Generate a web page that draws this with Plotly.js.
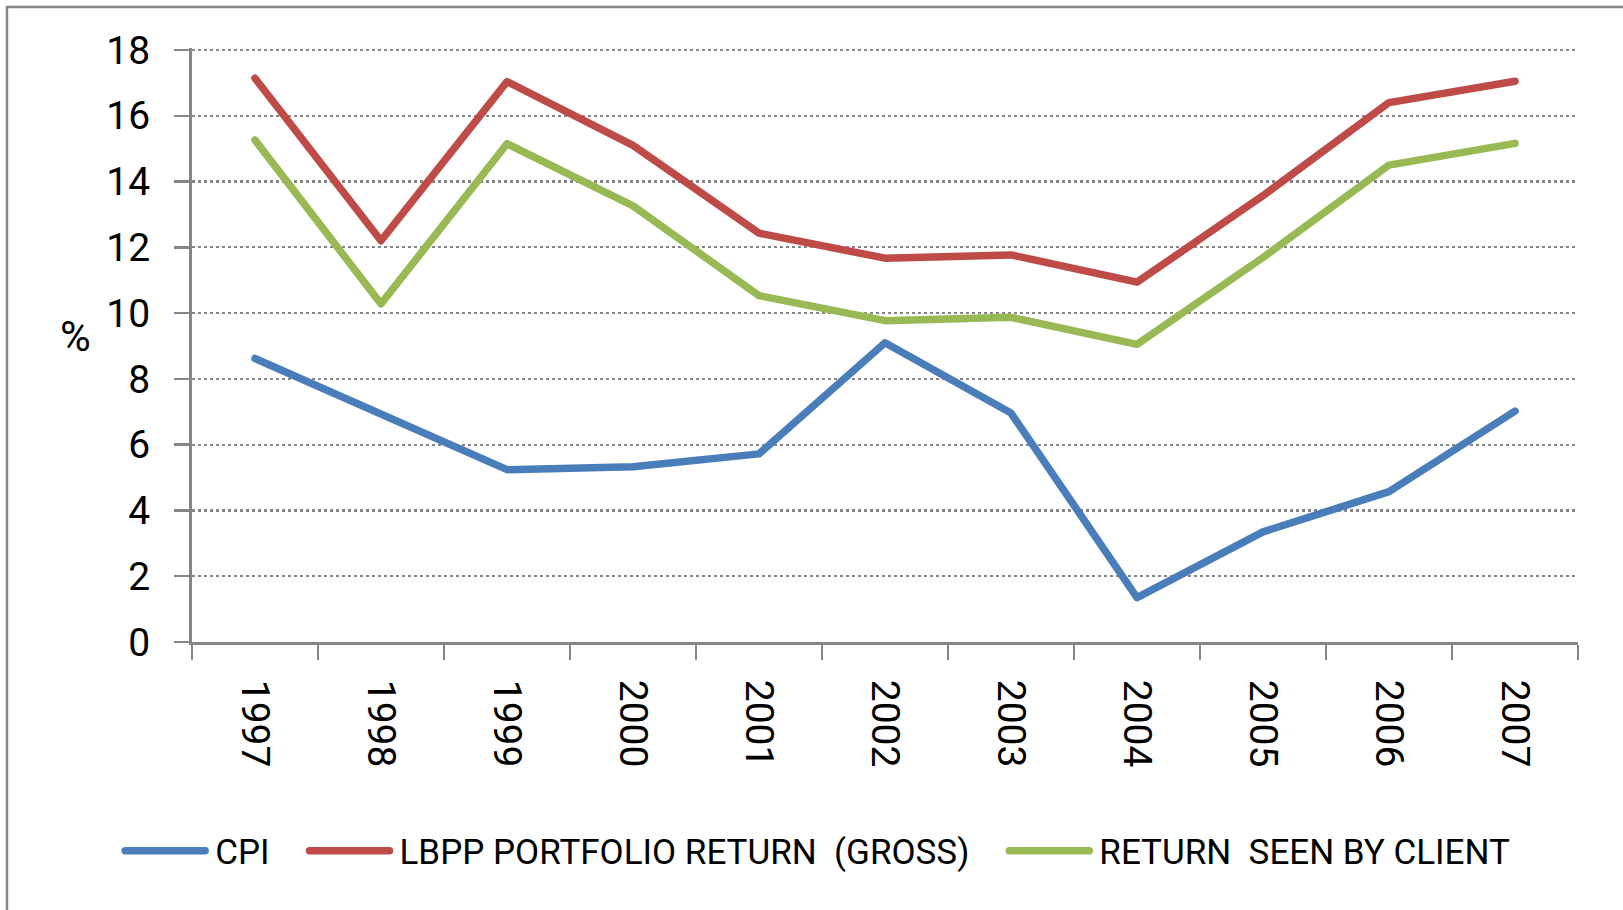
<!DOCTYPE html>
<html>
<head>
<meta charset="utf-8">
<script src="https://cdn.plot.ly/plotly-3.0.1.min.js"></script>
<style>
  html, body { margin: 0; padding: 0; background: #ffffff; }
  #chart { width: 1623px; height: 910px; }
  .scatterlayer .js-line, .legendlines path { stroke-linecap: round !important; stroke-linejoin: round !important; }
</style>
</head>
<body>
<div id="chart"></div>
<script>
const years = ["1997", "1998", "1999", "2000", "2001", "2002", "2003", "2004", "2005", "2006", "2007"];
const cpi = [8.62, 6.90, 5.24, 5.33, 5.72, 9.10, 6.96, 1.35, 3.35, 4.57, 7.02];
const lbppGross = [17.14, 12.20, 17.04, 15.10, 12.43, 11.67, 11.77, 10.94, 13.57, 16.40, 17.05];
const clientReturn = [15.26, 10.28, 15.15, 13.26, 10.53, 9.77, 9.87, 9.05, 11.69, 14.50, 15.16];
const seriesNames = ["CPI", "LBPP PORTFOLIO RETURN\u00a0 (GROSS)", "RETURN\u00a0 SEEN BY CLIENT"];
const seriesColors = ["#4A7EBB", "#BE4B48", "#98B954"];
const yTicks = [0, 2, 4, 6, 8, 10, 12, 14, 16, 18];

const FONT = "Roboto, 'Liberation Sans', Arial, sans-serif";
const GRAY = "#868686";

const seriesValues = [cpi, lbppGross, clientReturn];
const traces = seriesValues.map((vals, i) => ({
  type: "scatter",
  mode: "lines",
  x: years,
  y: vals,
  name: seriesNames[i],
  line: { color: seriesColors[i], width: 7.5 },
  hoverinfo: "x+y+name"
}));

const layout = {
  width: 1623,
  height: 910,
  margin: { l: 192, r: 45, t: 48, b: 268, pad: 0 },
  paper_bgcolor: "#ffffff",
  plot_bgcolor: "#ffffff",
  font: { family: FONT, color: "#000000", size: 39 },
  showlegend: true,
  legend: {
    orientation: "h",
    x: -0.0735,
    xanchor: "left",
    y: -0.352,
    yanchor: "middle",
    font: { family: FONT, size: 35, color: "#000000" },
    itemwidth: 115,
    bgcolor: "rgba(0,0,0,0)"
  },
  xaxis: {
    type: "category",
    range: [-0.5, 10.5],
    tickson: "boundaries",
    ticks: "outside",
    ticklen: 15,
    tickwidth: 2.5,
    tickcolor: GRAY,
    showline: true,
    linecolor: GRAY,
    linewidth: 3,
    showgrid: false,
    zeroline: false,
    tickangle: 90,
    tickfont: { family: FONT, size: 39, color: "#000000" },
    ticklabelstandoff: 27,
    fixedrange: true
  },
  yaxis: {
    range: [0, 18.06],
    tickvals: yTicks,
    ticktext: yTicks.map(String),
    ticks: "outside",
    ticklen: 15,
    tickwidth: 2.5,
    tickcolor: GRAY,
    showline: true,
    linecolor: GRAY,
    linewidth: 3,
    showgrid: true,
    gridcolor: GRAY,
    gridwidth: 2.3,
    griddash: "3px,3px",
    zeroline: false,
    tickfont: { family: FONT, size: 39, color: "#000000" },
    ticklabelstandoff: 16,
    fixedrange: true
  },
  annotations: [{
    text: "%",
    xref: "paper",
    yref: "y",
    x: -0.0837,
    y: 9.3,
    xanchor: "center",
    yanchor: "middle",
    showarrow: false,
    font: { family: FONT, size: 42, color: "#000000" }
  }],
  shapes: [{
    type: "rect",
    xref: "paper",
    yref: "paper",
    x0: -0.1335,
    x1: 1.06,
    y0: -0.6,
    y1: 1.069,
    line: { color: GRAY, width: 2.5 },
    fillcolor: "rgba(0,0,0,0)",
    layer: "below"
  }]
};

Plotly.newPlot("chart", traces, layout, { displayModeBar: false, staticPlot: true }).then(function (gd) {
  document.querySelectorAll(".legendlines path").forEach(function (p) {
    p.setAttribute("d", "M35,0h80");
  });
});
</script>
</body>
</html>
